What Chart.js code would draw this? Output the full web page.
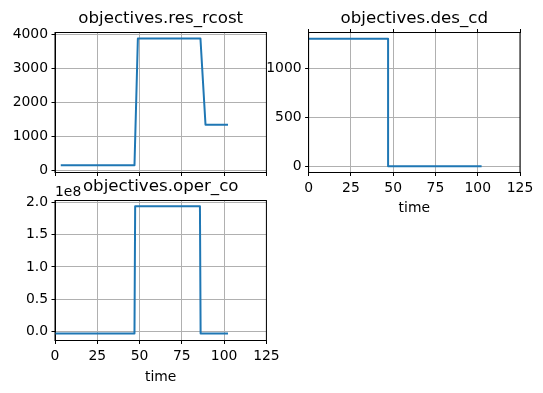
<!DOCTYPE html>
<html>
<head>
<meta charset="utf-8">
<script src="https://cdn.jsdelivr.net/npm/chart.js@4"></script>
<style>
  body { margin: 0; background: #fff; }
  .wrap { position: relative; width: 543px; height: 393px; }
  .wrap canvas { position: absolute; left: 0; top: 0; }
</style>
</head>
<body>
<div class="wrap">
  <canvas id="rcost" width="543" height="393"></canvas>
  <canvas id="descd" width="543" height="393"></canvas>
  <canvas id="operco" width="543" height="393"></canvas>
</div>
<script>
// values
const timeTicks = [0, 25, 50, 75, 100, 125];

const rcostTime = [4, 47, 49, 86, 89, 101.7];
const rcostVals = [160, 160, 3890, 3890, 1350, 1350];
const rcostTicks = [0, 1000, 2000, 3000, 4000];

const descdTime = [0, 47, 47, 101.7];
const descdVals = [1300, 1300, 0, 0];
const descdTicks = [0, 500, 1000];

const opercoTime = [0, 47, 47.4, 85.7, 86.1, 101.7];
const opercoVals = [-3e6, -3e6, 1.94e8, 1.94e8, -3e6, -3e6];
const opercoTicks = [0, 0.5e8, 1e8, 1.5e8, 2e8];

Chart.defaults.font.family = 'DejaVu Sans';
Chart.defaults.font.size = 13.9;
Chart.defaults.color = '#000';

const blue = '#1f77b4';
const gridColor = '#b0b0b0';

function points(xs, ys) {
  return xs.map((x, i) => ({ x: x, y: ys[i] }));
}

// black box round the plot area (matplotlib spines)
const frame = {
  id: 'frame',
  afterDatasetsDraw(chart) {
    const a = chart.chartArea;
    const ctx = chart.ctx;
    ctx.save();
    ctx.strokeStyle = '#000';
    ctx.lineWidth = 1;
    ctx.strokeRect(a.left, a.top, a.right - a.left, a.bottom - a.top);
    ctx.restore();
  }
};

// the "1e8" offset label above the bottom plot
const offsetText = {
  id: 'offsetText',
  afterDraw(chart) {
    const ctx = chart.ctx;
    ctx.save();
    ctx.font = '13.9px "DejaVu Sans"';
    ctx.fillStyle = '#000';
    ctx.fillText('1e8', chart.chartArea.left, chart.chartArea.top - 4.5);
    ctx.restore();
  }
};

function xScale(showLabels, titlePad) {
  return {
    type: 'linear',
    min: 0,
    max: 125,
    afterBuildTicks: s => { s.ticks = timeTicks.map(v => ({ value: v })); },
    afterFit: s => { s.height = showLabels ? 45 : 3.5; },
    ticks: { display: showLabels, maxRotation: 0, autoSkip: false, padding: 3.9, callback: v => String(v) },
    grid: { color: gridColor, lineWidth: 1, tickColor: '#000', tickLength: 3.5 },
    border: { color: '#000', width: 1 },
    title: { display: showLabels, text: 'time', padding: { top: 0, bottom: titlePad } }
  };
}

function yScale(min, max, tickVals, fmt) {
  return {
    type: 'linear',
    min: min,
    max: max,
    afterBuildTicks: s => { s.ticks = tickVals.map(v => ({ value: v })); },
    afterFit: s => { s.width = 50; },
    ticks: { padding: 3.5, autoSkip: false, callback: fmt },
    grid: { color: gridColor, lineWidth: 1, tickColor: '#000', tickLength: 3.5 },
    border: { color: '#000', width: 1 }
  };
}

function lineSet(xs, ys) {
  return {
    data: points(xs, ys),
    borderColor: blue,
    borderWidth: 2,
    pointRadius: 0,
    tension: 0,
    fill: false,
    borderJoinStyle: 'round',
    borderCapStyle: 'square'
  };
}

function titleOpts(text, padBottom) {
  return {
    display: true,
    text: text,
    fullSize: false,
    font: { size: 16.67, weight: 'normal' },
    padding: { top: 8.7, bottom: padBottom }
  };
}

// top left
new Chart(document.getElementById('rcost'), {
  type: 'line',
  data: { datasets: [lineSet(rcostTime, rcostVals)] },
  options: {
    responsive: false,
    animation: false,
    events: [],
    layout: { padding: { left: 5, right: 276.6, top: 0, bottom: 217 } },
    plugins: {
      legend: { display: false },
      tooltip: { enabled: false },
      title: titleOpts('objectives.res_rcost', 3.8)
    },
    scales: {
      x: xScale(false, 0),
      y: yScale(-55, 4065, rcostTicks, v => String(v))
    }
  },
  plugins: [frame]
});

// top right
const topTicks = xScale(false, 0);
topTicks.position = 'top';
topTicks.grid = { drawOnChartArea: false, tickColor: '#000', tickLength: 3.5 };

new Chart(document.getElementById('descd'), {
  type: 'line',
  data: { datasets: [lineSet(descdTime, descdVals)] },
  options: {
    responsive: false,
    animation: false,
    events: [],
    layout: { padding: { left: 258.6, right: 23, top: 0, bottom: 175.5 } },
    plugins: {
      legend: { display: false },
      tooltip: { enabled: false },
      title: titleOpts('objectives.des_cd', 0.3)
    },
    scales: {
      x: xScale(true, 0.76),
      xTop: topTicks,
      y: yScale(-65, 1365, descdTicks, v => String(v))
    }
  },
  plugins: [frame]
});

// bottom left
new Chart(document.getElementById('operco'), {
  type: 'line',
  data: { datasets: [lineSet(opercoTime, opercoVals)] },
  options: {
    responsive: false,
    animation: false,
    events: [],
    layout: { padding: { left: 5, right: 276.6, top: 168, bottom: 7.5 } },
    plugins: {
      legend: { display: false },
      tooltip: { enabled: false },
      title: titleOpts('objectives.oper_co', 3.8)
    },
    scales: {
      x: xScale(true, 0.26),
      y: yScale(-0.14e8, 2.03e8, opercoTicks, v => (v / 1e8).toFixed(1))
    }
  },
  plugins: [frame, offsetText]
});
</script>
</body>
</html>
